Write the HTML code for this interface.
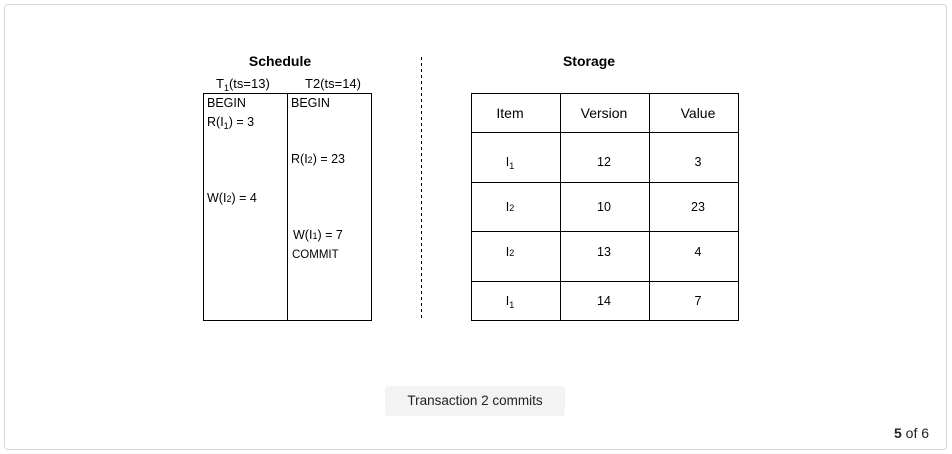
<!DOCTYPE html>
<html><head><meta charset="utf-8"><style>
body{margin:0;width:952px;height:454px;background:#fff;position:relative;overflow:hidden;font-family:"Liberation Sans",sans-serif;}
.frame{position:absolute;left:4px;top:4px;width:943px;height:446px;border:1px solid #d6d6d6;border-radius:4px;box-sizing:border-box;}
.btn{position:absolute;left:385px;top:386px;width:180px;height:30px;background:#f3f3f3;border-radius:3px;font-size:13.5px;color:#222;text-align:center;line-height:30px;}
.pg{position:absolute;left:894px;top:425px;font-size:14px;color:#222;}
</style></head><body>
<div class="frame"></div>
<svg width="952" height="454" style="position:absolute;left:0;top:0" font-family="Liberation Sans, sans-serif" fill="#000">
<text x="280" y="66" font-size="14" font-weight="bold" text-anchor="middle">Schedule</text>
<text x="589" y="66" font-size="14" font-weight="bold" text-anchor="middle">Storage</text>
<text x="216" y="88" font-size="13">T<tspan font-size="9" dy="3">1</tspan><tspan dy="-3">(ts=13)</tspan></text>
<text x="305" y="88" font-size="13">T2(ts=14)</text>
<rect x="203.5" y="93.5" width="168" height="227" fill="none" stroke="#000"/>
<line x1="287.5" y1="93" x2="287.5" y2="321" stroke="#000"/>
<g font-size="12.5">
<text x="207" y="107">BEGIN</text>
<text x="291" y="107">BEGIN</text>
<text x="207" y="126">R(I<tspan font-size="9" dy="3">1</tspan><tspan dy="-3">) = 3</tspan></text>
<text x="291" y="163">R(I<tspan font-size="9">2</tspan>) = 23</text>
<text x="207" y="202">W(I<tspan font-size="9">2</tspan>) = 4</text>
<text x="293" y="239">W(I<tspan font-size="9">1</tspan>) = 7</text>
<text x="292" y="258" font-size="11.5">COMMIT</text>
</g>
<line x1="421.5" y1="57" x2="421.5" y2="321" stroke="#000" stroke-dasharray="3,3"/>
<g stroke="#000" fill="none">
<rect x="471.5" y="93.5" width="267" height="227"/>
<line x1="560.5" y1="93" x2="560.5" y2="321"/>
<line x1="649.5" y1="93" x2="649.5" y2="321"/>
<line x1="471" y1="132.5" x2="739" y2="132.5"/>
<line x1="471" y1="182.5" x2="739" y2="182.5"/>
<line x1="471" y1="231.5" x2="739" y2="231.5"/>
<line x1="471" y1="281.5" x2="739" y2="281.5"/>
</g>
<g font-size="14" text-anchor="middle">
<text x="510" y="118">Item</text><text x="604" y="118">Version</text><text x="698" y="118">Value</text>
</g>
<g font-size="12.5" text-anchor="middle">
<text x="510" y="166">I<tspan font-size="9" dy="3">1</tspan></text><text x="604" y="166">12</text><text x="698" y="166">3</text>
<text x="510" y="211">I<tspan font-size="9">2</tspan></text><text x="604" y="211">10</text><text x="698" y="211">23</text>
<text x="510" y="256">I<tspan font-size="9">2</tspan></text><text x="604" y="256">13</text><text x="698" y="256">4</text>
<text x="510" y="305">I<tspan font-size="9" dy="3">1</tspan></text><text x="604" y="305">14</text><text x="698" y="305">7</text>
</g>
</svg>
<div class="btn">Transaction 2 commits</div>
<div class="pg"><b>5</b> of 6</div>
</body></html>
